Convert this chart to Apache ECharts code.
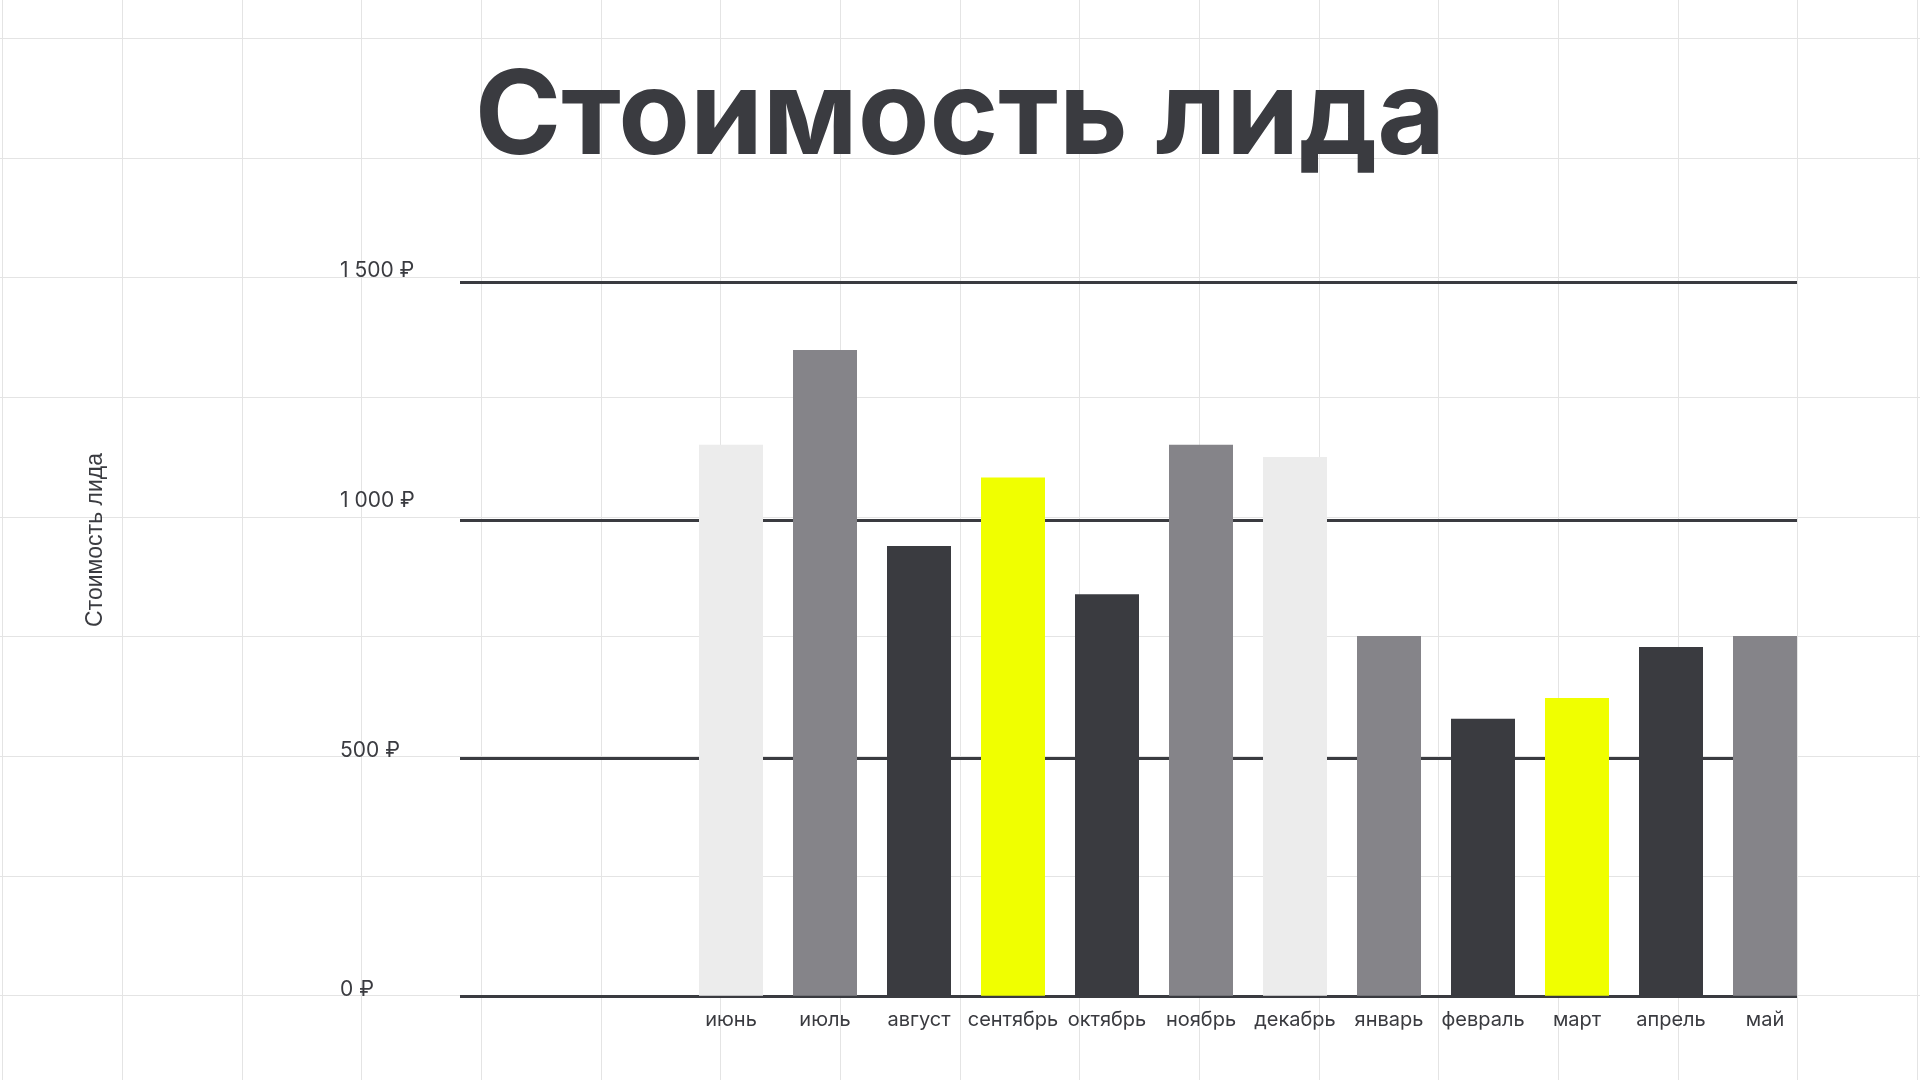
<!DOCTYPE html>
<html>
<head>
<meta charset="utf-8">
<script src="https://cdn.jsdelivr.net/npm/echarts@6/dist/echarts.min.js"></script>
<style>
html,body{margin:0;padding:0;background:#ffffff;}
#chart{width:1920px;height:1080px;}
</style>
</head>
<body>
<div id="chart"></div>
<script>
// ---- data ----
var titleText = 'Стоимость лида';
var yAxisName = 'Стоимость лида';
var categories = ['июнь','июль','август','сентябрь','октябрь','ноябрь','декабрь','январь','февраль','март','апрель','май'];
var costValues = [1158, 1357, 945, 1089, 844, 1158, 1132, 756, 582, 626, 733, 756];
var yTickValues = [0, 500, 1000, 1500];
var yTickLabels = ['0 ₽', '500 ₽', '1 000 ₽', '1 500 ₽'];

// ---- styles ----
var LIGHT = '#ececec', MID = '#858489', DARK = '#3a3b40', YELLOW = '#f0ff00';
var barColors = [LIGHT, MID, DARK, YELLOW, DARK, MID, LIGHT, MID, DARK, YELLOW, DARK, MID];
var TEXT = '#3a3b40';
// per-tick label line heights (nudges the label vertically, as in the original layout)
var tickLineHeights = [13, 15, 38, 23];

// decorative background grid
var bgEls = [];
var step = 119.67;
for (var i = 0; i < 17; i++) {
  var x = Math.round(2.3 + step * i) + 0.5;
  bgEls.push({type:'line', z:-10, silent:true, shape:{x1:x, y1:0, x2:x, y2:1080}, style:{stroke:'#e4e4e4', lineWidth:1}});
}
for (var j = 0; j < 10; j++) {
  var y = Math.round(38 + step * j) + 0.5;
  bgEls.push({type:'line', z:-10, silent:true, shape:{x1:0, y1:y, x2:1920, y2:y}, style:{stroke:'#e4e4e4', lineWidth:1}});
}
bgEls.push({
  type:'text', z:5, left:84, top:'middle',
  rotation: Math.PI/2,
  originX: 0, originY: 0,
  style:{text:yAxisName, fill:TEXT, font:'23px "Liberation Sans", Arial, sans-serif', align:'center', verticalAlign:'middle', x:0, y:0}
});

var richStyles = {};
tickLineHeights.forEach(function(lh, k){
  richStyles['t' + k] = {fontFamily:'Inter', fontSize:21, color:TEXT, lineHeight:lh};
});

var chart = echarts.init(document.getElementById('chart'), null, {renderer:'canvas'});
var GRID_TOP = 282, GRID_H = 713.8;
var option = {
  backgroundColor:'#ffffff',
  animation:false,
  title:{
    text:titleText, left:'center', top:55,
    textStyle:{fontFamily:'Inter', fontWeight:700, fontSize:117, color:TEXT}
  },
  graphic:{elements:bgEls},
  grid:[
    {left:460, top:GRID_TOP, width:1337, height:GRID_H},
    {left:684, top:GRID_TOP, width:1128, height:GRID_H}
  ],
  xAxis:[
    {gridIndex:0, type:'category', data:categories, show:false},
    {gridIndex:1, type:'category', data:categories,
     axisLine:{show:false}, axisTick:{show:false}, splitLine:{show:false},
     axisLabel:{margin:14, fontFamily:'Inter', fontSize:20, color:TEXT, interval:0}}
  ],
  yAxis:[
    {gridIndex:0, type:'value', min:0, max:1500, interval:500,
     axisLine:{show:false}, axisTick:{show:false},
     splitLine:{show:true, lineStyle:{color:DARK, width:3}},
     axisLabel:{margin:120, align:'left', verticalAlign:'bottom', fontFamily:'Inter', fontSize:21, color:TEXT,
       rich:richStyles,
       formatter:function(v){ var k = yTickValues.indexOf(v); return k >= 0 ? '{t' + k + '|' + yTickLabels[k] + '}' : ''; }}},
    {gridIndex:1, type:'value', min:0, max:1500, interval:500, show:false, splitLine:{show:false}}
  ],
  series:[{
    type:'bar', xAxisIndex:1, yAxisIndex:1, barWidth:64, z:3,
    data: costValues.map(function(v, i){ return {value:v, itemStyle:{color:barColors[i]}}; })
  }]
};
chart.setOption(option);
</script>
</body>
</html>
